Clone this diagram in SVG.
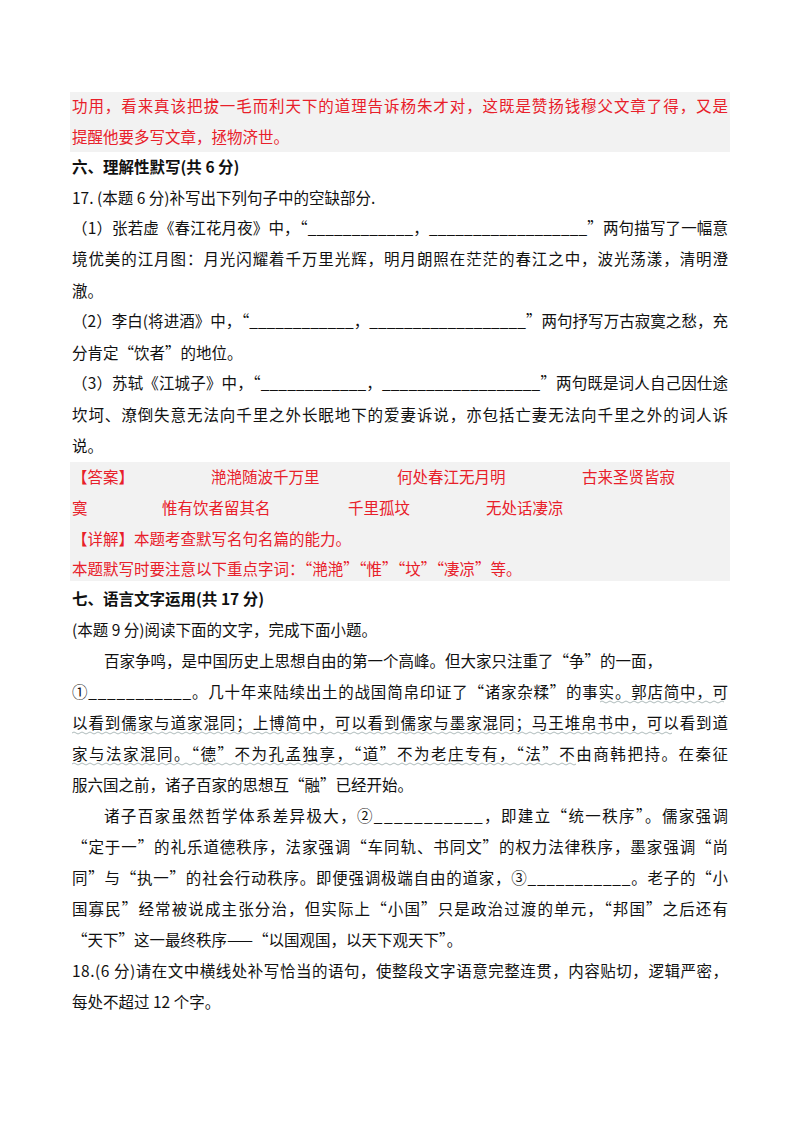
<svg xmlns="http://www.w3.org/2000/svg" width="800" height="1132" viewBox="0 0 800 1132">
<style>
text{font-family:"Noto Sans CJK SC","Liberation Serif",sans-serif;font-size:15.5px;fill:#111}
.r{fill:#e8202a}
.b{font-weight:bold}
.w{fill:none;stroke:#9aa;stroke-width:0.8}
</style>
<rect x="0" y="0" width="800" height="1132" fill="#fff"/>
<rect x="70" y="92" width="660" height="60" fill="#f2f2f2"/>
<rect x="70" y="462" width="660" height="119" fill="#f2f2f2"/>
<g id="text">
<text class="r" x="72" y="112" textLength="656" lengthAdjust="spacing">功用，看来真该把拔一毛而利天下的道理告诉杨朱才对，这既是赞扬钱穆父文章了得，又是</text>
<text class="r" x="72" y="143">提醒他要多写文章，拯物济世。</text>
<text class="b" x="72" y="173">六、理解性默写(共 6 分)</text>
<text x="72" y="204">17. (本题 6 分)补写出下列句子中的空缺部分.</text>
<text x="72" y="234" textLength="656" lengthAdjust="spacing">（1）张若虚《春江花月夜》中，“____________，__________________”两句描写了一幅意</text>
<text x="72" y="265" textLength="656" lengthAdjust="spacing">境优美的江月图：月光闪耀着千万里光辉，明月朗照在茫茫的春江之中，波光荡漾，清明澄</text>
<text x="72" y="297">澈。</text>
<text x="72" y="327" textLength="656" lengthAdjust="spacing">（2）李白(将进酒》中，“____________，__________________”两句抒写万古寂寞之愁，充</text>
<text x="72" y="359">分肯定“饮者”的地位。</text>
<text x="72" y="389" textLength="656" lengthAdjust="spacing">（3）苏轼《江城子》中，“____________，__________________”两句既是词人自己因仕途</text>
<text x="72" y="421" textLength="656" lengthAdjust="spacing">坎坷、潦倒失意无法向千里之外长眠地下的爱妻诉说，亦包括亡妻无法向千里之外的词人诉</text>
<text x="72" y="452">说。</text>
<text class="r" x="72" y="483">【答案】</text>
<text class="r" x="211" y="483">滟滟随波千万里</text>
<text class="r" x="397" y="483">何处春江无月明</text>
<text class="r" x="582" y="483">古来圣贤皆寂</text>
<text class="r" x="72" y="514">寞</text>
<text class="r" x="162" y="514">惟有饮者留其名</text>
<text class="r" x="348" y="514">千里孤坟</text>
<text class="r" x="486" y="514">无处话凄凉</text>
<text class="r" x="72" y="545">【详解】本题考查默写名句名篇的能力。</text>
<text class="r" x="72" y="575">本题默写时要注意以下重点字词：“滟滟”“惟”“坟”“凄凉”等。</text>
<text class="b" x="72" y="605">七、语言文字运用(共 17 分)</text>
<text x="72" y="636">(本题 9 分)阅读下面的文字，完成下面小题。</text>
<text x="104" y="667">百家争鸣，是中国历史上思想自由的第一个高峰。但大家只注重了“争”的一面，</text>
<text x="72" y="698" textLength="656" lengthAdjust="spacing">①___________。几十年来陆续出土的战国简帛印证了“诸家杂糅”的事实。郭店简中，可</text>
<text x="72" y="729" textLength="656" lengthAdjust="spacing">以看到儒家与道家混同；上博简中，可以看到儒家与墨家混同；马王堆帛书中，可以看到道</text>
<text x="72" y="760" textLength="656" lengthAdjust="spacing">家与法家混同。“德”不为孔孟独享，“道”不为老庄专有，“法”不由商韩把持。在秦征</text>
<text x="72" y="791">服六国之前，诸子百家的思想互“融”已经开始。</text>
<text x="104" y="822" textLength="624" lengthAdjust="spacing">诸子百家虽然哲学体系差异极大，②___________，即建立“统一秩序”。儒家强调</text>
<text x="72" y="853" textLength="656" lengthAdjust="spacing">“定于一”的礼乐道德秩序，法家强调“车同轨、书同文”的权力法律秩序，墨家强调“尚</text>
<text x="72" y="884" textLength="656" lengthAdjust="spacing">同”与“执一”的社会行动秩序。即便强调极端自由的道家，③___________。老子的“小</text>
<text x="72" y="915" textLength="656" lengthAdjust="spacing">国寡民”经常被说成主张分治，但实际上“小国”只是政治过渡的单元，“邦国”之后还有</text>
<text x="72" y="946">“天下”这一最终秩序——“以国观国，以天下观天下”。</text>
<text x="72" y="977" textLength="656" lengthAdjust="spacing">18.(6 分)请在文中横线处补写恰当的语句，使整段文字语意完整连贯，内容贴切，逻辑严密，</text>
<text x="72" y="1008">每处不超过 12 个字。</text>
</g>
<g id="connectors">
<path class="w" d="M600 702 q2 -2 4 0 t4 0 t4 0 t4 0 t4 0 t4 0 t4 0 t4 0 t4 0 t4 0 t4 0 t4 0 t4 0 t4 0 t4 0 t4 0 t4 0 t4 0 t4 0 t4 0 t4 0 t4 0 t4 0 t4 0 t4 0 t4 0 t4 0 t4 0 t4 0 t4 0 t4 0"/>
<path class="w" d="M72 733 q2 -2 4 0 t4 0 t4 0 t4 0 t4 0 t4 0 t4 0 t4 0 t4 0 t4 0 t4 0 t4 0 t4 0 t4 0 t4 0 t4 0 t4 0 t4 0 t4 0 t4 0 t4 0 t4 0 t4 0 t4 0 t4 0 t4 0 t4 0 t4 0 t4 0 t4 0 t4 0 t4 0 t4 0 t4 0 t4 0 t4 0 t4 0 t4 0 t4 0 t4 0 t4 0 t4 0 t4 0 t4 0 t4 0 t4 0 t4 0 t4 0 t4 0 t4 0 t4 0 t4 0 t4 0 t4 0 t4 0 t4 0 t4 0 t4 0 t4 0 t4 0 t4 0 t4 0 t4 0 t4 0 t4 0 t4 0 t4 0 t4 0 t4 0 t4 0 t4 0 t4 0 t4 0 t4 0 t4 0 t4 0 t4 0 t4 0 t4 0 t4 0 t4 0 t4 0 t4 0 t4 0 t4 0 t4 0 t4 0 t4 0 t4 0 t4 0 t4 0 t4 0 t4 0 t4 0 t4 0 t4 0 t4 0 t4 0 t4 0 t4 0 t4 0 t4 0 t4 0 t4 0 t4 0 t4 0 t4 0 t4 0 t4 0 t4 0 t4 0 t4 0 t4 0 t4 0 t4 0 t4 0 t4 0 t4 0 t4 0 t4 0 t4 0 t4 0 t4 0 t4 0 t4 0 t4 0 t4 0 t4 0 t4 0 t4 0 t4 0 t4 0 t4 0 t4 0 t4 0 t4 0 t4 0 t4 0 t4 0 t4 0 t4 0 t4 0 t4 0 t4 0 t4 0 t4 0 t4 0 t4 0 t4 0 t4 0"/>
<path class="w" d="M72 764 q2 -2 4 0 t4 0 t4 0 t4 0 t4 0 t4 0 t4 0 t4 0 t4 0 t4 0 t4 0 t4 0 t4 0 t4 0 t4 0 t4 0 t4 0 t4 0 t4 0 t4 0 t4 0 t4 0 t4 0 t4 0 t4 0 t4 0 t4 0 t4 0 t4 0 t4 0 t4 0 t4 0 t4 0 t4 0 t4 0 t4 0 t4 0 t4 0 t4 0 t4 0 t4 0 t4 0 t4 0 t4 0 t4 0 t4 0 t4 0 t4 0 t4 0 t4 0 t4 0 t4 0 t4 0 t4 0 t4 0 t4 0 t4 0 t4 0 t4 0 t4 0 t4 0 t4 0 t4 0 t4 0 t4 0 t4 0 t4 0 t4 0 t4 0 t4 0 t4 0 t4 0 t4 0 t4 0 t4 0 t4 0 t4 0 t4 0 t4 0 t4 0 t4 0 t4 0 t4 0 t4 0 t4 0 t4 0 t4 0 t4 0 t4 0 t4 0 t4 0 t4 0 t4 0 t4 0 t4 0 t4 0 t4 0 t4 0 t4 0 t4 0 t4 0 t4 0 t4 0 t4 0 t4 0 t4 0 t4 0 t4 0 t4 0 t4 0 t4 0 t4 0 t4 0 t4 0 t4 0 t4 0 t4 0 t4 0 t4 0 t4 0 t4 0 t4 0 t4 0 t4 0 t4 0 t4 0"/>
</g>
</svg>
